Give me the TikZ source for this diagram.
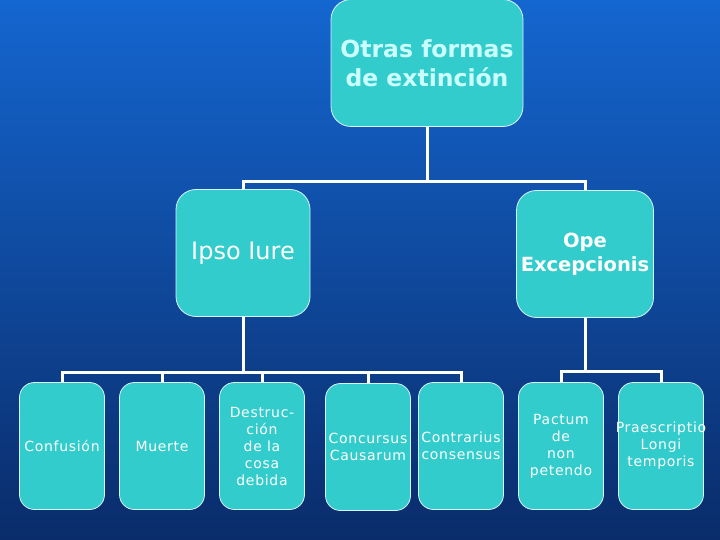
\documentclass[tikz,border=0pt]{standalone}
\usepackage{fontspec}
\setmainfont{DejaVu Sans}
\usepackage{tikz}
\usetikzlibrary{positioning}

\definecolor{bgtop}{HTML}{1466D0}
\definecolor{bgmid}{HTML}{0E4EA8}
\definecolor{bgbot}{HTML}{0A2C6A}
\definecolor{boxfill}{HTML}{33CCCC}
\definecolor{titletext}{HTML}{CCFFFF}

\begin{document}
\begin{tikzpicture}[x=1pt, y=-1pt,
            box/.style={rectangle, draw=white!85!cyan, line width=0.8pt, fill=boxfill, align=center, inner sep=1pt, text=white},
            bigbox/.style={box, rounded corners=20pt, minimum width=134pt, minimum height=127pt},
            leaf/.style={box, rounded corners=15pt, minimum width=85pt, minimum height=127pt, font=\fontsize{14}{17}\selectfont\addfontfeatures{LetterSpace=5}},
            link/.style={draw=white, line width=3pt}]

            % Background
            \fill[top color=bgtop, middle color=bgmid, bottom color=bgbot] (0,0) rectangle (720,540);
            \useasboundingbox (0,0) rectangle (720,540);

            % Nodes
            \node[bigbox, minimum width=192pt, text=titletext, font=\bfseries\fontsize{23.5}{29}\selectfont] (otras) at (427,63) {Otras formas\\ de extinción};
            \node[bigbox, font=\fontsize{24}{28}\selectfont] (ipso) at (243,253) {Ipso Iure};
            \node[bigbox, minimum width=137pt, font=\bfseries\fontsize{19.5}{24}\selectfont] (ope) at (585,254) {Ope\\Excepcionis};

            \node[leaf] (conf) at (62,446) {Confusión};
            \node[leaf] (muerte) at (162,446) {Muerte};
            \node[leaf] (destr) at (262,446) {Destruc-\\ción\\de la\\cosa\\debida};
            \node[leaf] (concur) at (368,447) {Concursus\\Causarum};
            \node[leaf] (contra) at (461,446) {Contrarius\\consensus};
            \node[leaf] (pactum) at (561,446) {Pactum\\de\\non\\petendo};
            \node[leaf] (praes) at (661,446) {\makebox[80pt]{Praescriptio}\\Longi\\temporis};

            % Edges
            \draw[link] (otras.south) -- ++(0,55) -| (ipso.north);
            \draw[link] (otras.south) -- ++(0,55) -| (ope.north);

            \foreach \n in {conf, muerte, destr, concur, contra}
                \draw[link] (ipso.south) -- ++(0,56) -| (\n.north);
            \foreach \n in {pactum, praes}
                \draw[link] (ope.south) -- ++(0,54) -| (\n.north);
\end{tikzpicture}
\end{document}
